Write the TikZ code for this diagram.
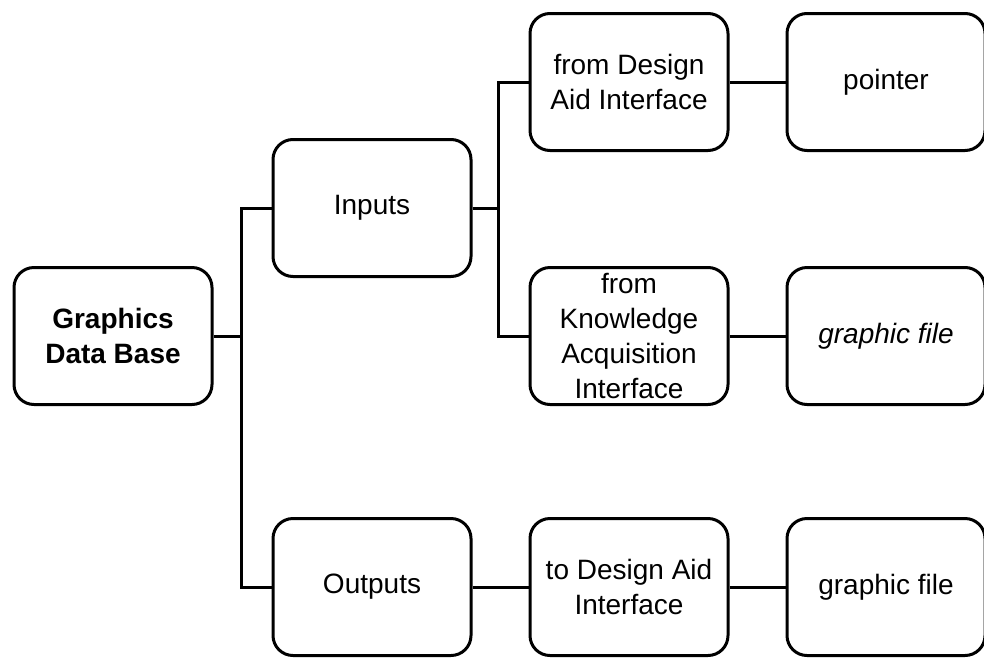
\documentclass[tikz,border=0pt]{standalone}
\usepackage{fontspec}
\setmainfont{Liberation Sans}
\usepackage{tikz}
\usetikzlibrary{positioning}
\tikzstyle{block} = [rectangle, rounded corners=10pt, minimum width=99pt, minimum height=68.5pt, inner sep=0pt, align=center, draw=black, line width=1.5pt]
\tikzstyle{link} = [line width=1.5pt]

\begin{document}
\fontsize{14}{17.5}\selectfont
\begin{tikzpicture}[node distance=128.5pt, x=0.5pt, y=-0.5pt]
          \useasboundingbox (0,0) rectangle (984,659);
          \node (gdb) [block, font=\bfseries] at (113,336) {Graphics\\Data Base};
          \node (inputs) [block] at (372,208) {Inputs};
          \node (outputs) [block] at (372,587) {Outputs};
          \node (fromdai) [block] at (629,82) {from Design\\Aid Interface};
          \node (pointer) [block, right of=fromdai] {pointer};
          \node (fromkai) [block] at (629,336) {from\\Knowledge\\Acquisition\\Interface};
          \node (gfile1) [block, right of=fromkai, font=\itshape] {graphic file};
          \node (todai) [block, right of=outputs] {to Design Aid\\Interface};
          \node (gfile2) [block, right of=todai] {graphic file};
          \coordinate (split1) at (241,336);
          \coordinate (split2) at (498,208);
          \draw [link] (gdb.east) -- (split1);
          \draw [link] (split1) |- (inputs.west);
          \draw [link] (split1) |- (outputs.west);
          \draw [link] (inputs.east) -- (split2);
          \draw [link] (split2) |- (fromdai.west);
          \draw [link] (split2) |- (fromkai.west);
          \draw [link] (fromdai) -- (pointer);
          \draw [link] (fromkai) -- (gfile1);
          \draw [link] (outputs) -- (todai);
          \draw [link] (todai) -- (gfile2);
        \end{tikzpicture}
\end{document}
